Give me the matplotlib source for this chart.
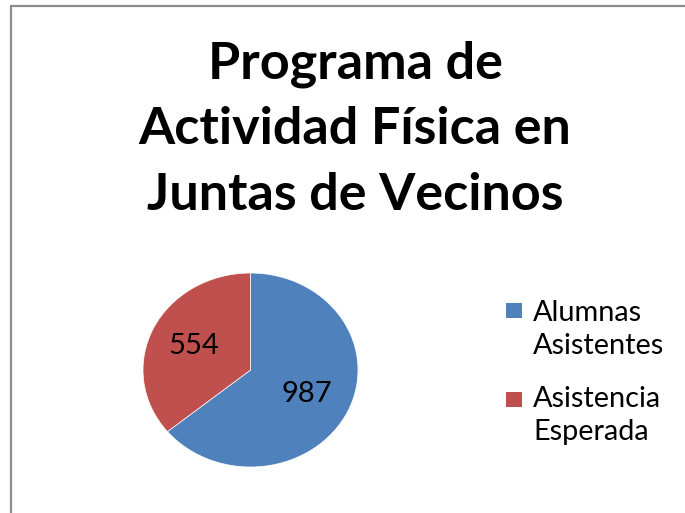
import matplotlib
matplotlib.use("Agg")
import matplotlib.pyplot as plt
from matplotlib.patches import Rectangle

plt.rcParams['font.family'] = ['Lato', 'DejaVu Sans']

title_lines = ["Programa de", "Actividad Física en", "Juntas de Vecinos"]
labels = ["Alumnas\nAsistentes", "Asistencia\nEsperada"]
values = [987, 554]
colors = ["#4F81BD", "#C0504D"]

W, H = 685, 513
fig = plt.figure(figsize=(W / 100, H / 100), dpi=100)
fig.patch.set_facecolor("white")

def fx(px):
    return px / W

def fy(py):
    return 1 - py / H

# chart border
fig.patches.append(Rectangle((fx(11), fy(700)), fx(800), fy(6) - fy(700),
                             transform=fig.transFigure, fill=False,
                             edgecolor="#8c8c8c", linewidth=1.6, clip_on=False))

# title
baselines = [78, 144, 210]
for line, b in zip(title_lines, baselines):
    fig.text(fx(355), fy(b), line, ha="center", va="baseline",
             fontsize=37.5, fontweight="bold", color="black")

# pie
ax = fig.add_axes([fx(143), fy(467), fx(358) - fx(143), fy(273) - fy(467)])
wedges, texts, autotexts = ax.pie(
    values, colors=colors, startangle=90, counterclock=False,
    autopct=lambda p: f"{round(p * sum(values) / 100):d}",
    pctdistance=0.58, radius=1.0,
    wedgeprops=dict(edgecolor="white", linewidth=0.5),
    textprops=dict(fontsize=21, color="black"))
ax.set_xlim(-1, 1)
ax.set_ylim(-1, 1)
ax.set_aspect("auto")
ax.axis("off")

# legend
tops = [303, 392]
text_offsets = [-3, -6]
for lab, col, t, o in zip(labels, colors, tops, text_offsets):
    fig.patches.append(Rectangle((fx(506), fy(t + 15)), fx(16), fy(t) - fy(t + 15),
                                 transform=fig.transFigure, facecolor=col,
                                 edgecolor="none"))
    fig.text(fx(533), fy(t + o), lab, ha="left", va="top", fontsize=20.8,
             color="black", linespacing=1.35)

fig.savefig("out.png", dpi=100, facecolor="white")
